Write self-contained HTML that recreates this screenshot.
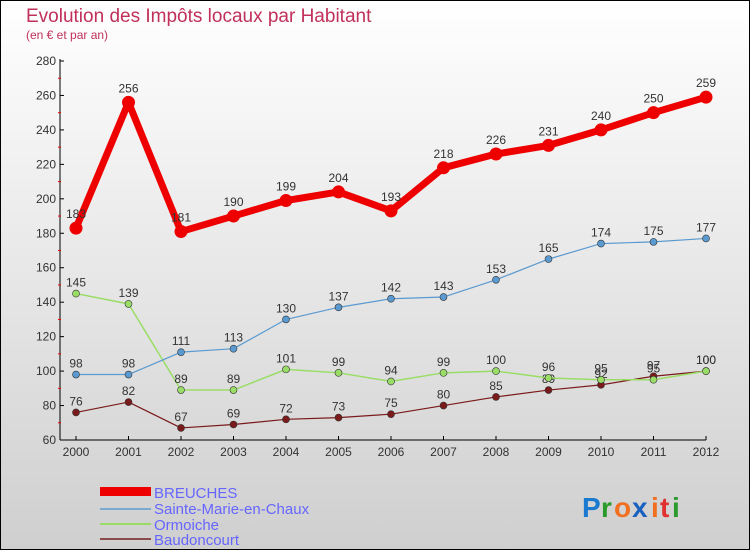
<!DOCTYPE html>
<html><head><meta charset="utf-8"><style>
body{margin:0}
#c{width:748px;height:548px;border:1px solid #000;background:linear-gradient(#fff,#cfcfcf);position:relative;font-family:"Liberation Sans",sans-serif;overflow:hidden}
</style></head><body>
<div id="c">
<svg id="s" width="748" height="548" xmlns="http://www.w3.org/2000/svg">
<text x="25" y="21" font-size="19" fill="#c0305a">Evolution des Impôts locaux par Habitant</text>
<text x="25" y="38" font-size="12" fill="#c0305a">(en € et par an)</text>
<g id="g"></g>
<text x="153" y="497" font-size="15" fill="#6666ff">BREUCHES</text>
<text x="153" y="513" font-size="15" fill="#6666ff">Sainte-Marie-en-Chaux</text>
<text x="153" y="529" font-size="15" fill="#6666ff">Ormoiche</text>
<text x="153" y="544" font-size="15" fill="#6666ff">Baudoncourt</text>
<rect x="99" y="486" width="51" height="9" fill="#e00"/>
<rect x="99" y="507" width="51" height="2" fill="#7aaad0"/>
<rect x="99" y="522" width="51" height="2" fill="#99dd66"/>
<rect x="99" y="537" width="51" height="2" fill="#8b4a4a"/>
<g font-size="28" font-weight="bold">
<text x="581" y="516" fill="#1a7ad0">P</text><text x="600" y="516" fill="#2a9a2a">r</text><text x="613" y="516" fill="#f07020">o</text><text x="631" y="516" fill="#1a60c0">x</text><text x="650" y="516" fill="#f07020">i</text><text x="659" y="516" fill="#e03030">t</text><text x="671" y="516" fill="#2a9a2a">i</text></g>
</svg></div>
<script>
const years=[2000,2001,2002,2003,2004,2005,2006,2007,2008,2009,2010,2011,2012];
const yTicks=[60,80,100,120,140,160,180,200,220,240,260,280];
const breuches=[183,256,181,190,199,204,193,218,226,231,240,250,259];
const sainteMarie=[98,98,111,113,130,137,142,143,153,165,174,175,177];
const ormoiche=[145,139,89,89,101,99,94,99,100,96,95,95,100];
const baudoncourt=[76,82,67,69,72,73,75,80,85,89,92,97,100];
const g=document.getElementById('g');const NS='http://www.w3.org/2000/svg';
const X=i=>75+i*52.5, Y=v=>439-(v-60)*(379/220);
function mk(t,a){const e=document.createElementNS(NS,t);for(const k in a)e.setAttribute(k,a[k]);g.appendChild(e);return e;}
let e=mk('line',{x1:59,y1:58,x2:59,y2:439,stroke:'#000'});


e=mk('line',{x1:59,y1:439,x2:705,y2:439,stroke:'#000'});


yTicks.forEach(v=>{mk('line',{x1:59,y1:Y(v),x2:63,y2:Y(v),stroke:'#000'});
if(v<280)mk('line',{x1:57,y1:Y(v+10),x2:60,y2:Y(v+10),stroke:'#e00'});
const t=mk('text',{x:55,y:Y(v)+4,'font-size':12,fill:'#333','text-anchor':'end'});t.textContent=v;

});
years.forEach((y,i)=>{mk('line',{x1:X(i),y1:435,x2:X(i),y2:439,stroke:'#000'});
const t=mk('text',{x:X(i),y:455,'font-size':12,fill:'#333','text-anchor':'middle'});t.textContent=y;

});
function series(d,col,w,r,name){
const p=mk('polyline',{points:d.map((v,i)=>X(i)+','+Y(v)).join(' '),fill:'none',stroke:col,'stroke-width':w,'stroke-linejoin':'round'});


d.forEach((v,i)=>{const c=mk('circle',{cx:X(i),cy:Y(v),r:r,fill:col,stroke:w>3?'none':'#333','stroke-width':0.6});


const t=mk('text',{x:X(i),y:Y(v)-(w>3?10:7),'font-size':12,fill:'#333','text-anchor':'middle'});t.textContent=v;

});}
series(baudoncourt,'#7a1a1a',1.2,3.5,'baudoncourt');
series(ormoiche,'#99dd66',1.5,3.5,'ormoiche');
series(sainteMarie,'#5a9ad0',1.2,3.5,'sainte-marie');
series(breuches,'#ee0000',7,6.5,'breuches');
</script></body></html>
